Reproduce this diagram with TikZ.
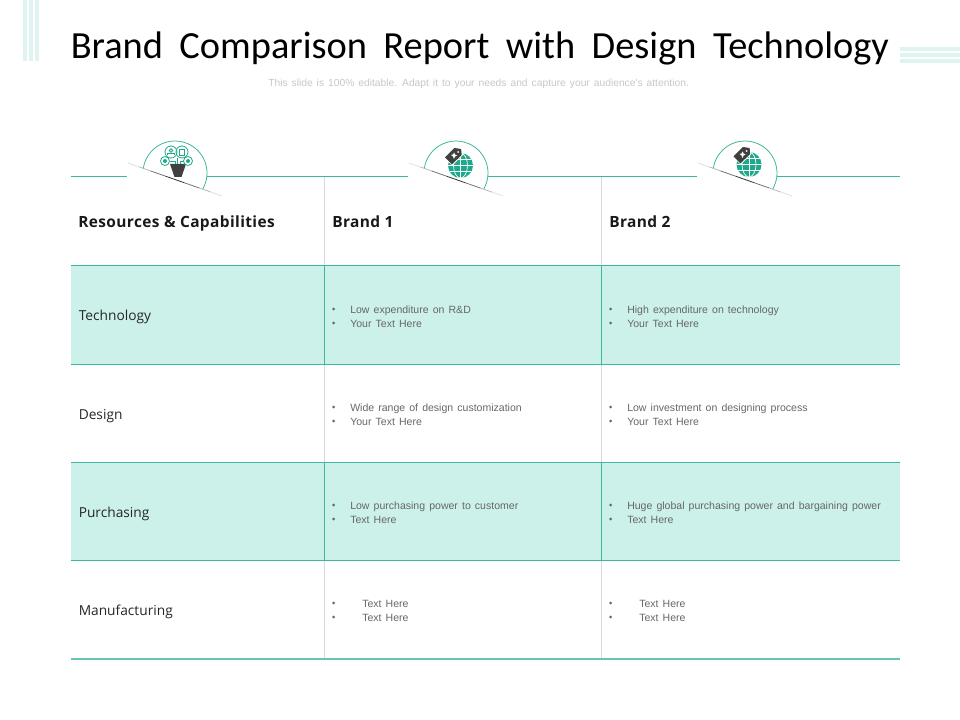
\documentclass[tikz,border=0pt]{standalone}
\usepackage{fontspec}
\setmainfont{Liberation Sans}
\newfontfamily\titlefont[WordSpace=1.9]{Carlito}
\newfontfamily\headfont[LetterSpace=2.5]{Open Sans}
\newfontfamily\rowfont{Open Sans}
\newfontfamily\bodyfont[WordSpace=1.4]{Liberation Sans}
\definecolor{teal1}{HTML}{3DB8A0}
\definecolor{tealfill}{HTML}{CCF1EA}
\definecolor{stripe}{HTML}{DFF3F0}
\definecolor{gridgray}{HTML}{D9D9D9}
\definecolor{txtgray}{HTML}{666666}
\definecolor{icondark}{HTML}{404040}
\definecolor{iconteal}{HTML}{1FA98C}
\tikzset{
  x=0.75pt,y=-0.75pt,
  hline/.style={teal1,line width=0.75pt},
  hlineedge/.style={teal1!80,line width=1.1pt},
  vgray/.style={gridgray,line width=0.75pt},
  vteal/.style={teal1,line width=0.75pt},
  rowfill/.style={fill=tealfill,draw=none},
  stripeband/.style={fill=stripe,draw=none},
  headtxt/.style={anchor=base west,inner sep=0pt,font=\headfont\bfseries\fontsize{11.6}{13}\selectfont,text=black!90},
  rowtxt/.style={anchor=base west,inner sep=0pt,font=\rowfont\fontsize{10.3}{13}\selectfont,text=black!85},
  celltxt/.style={anchor=base west,inner sep=0pt,font=\bodyfont\fontsize{7.9}{10.5}\selectfont,text=txtgray},
  bulletdot/.style={fill=txtgray,draw=none},
  arcline/.style={teal1,line width=0.6pt},
  iconring/.style={iconteal,line width=0.6pt,fill=none},
}
\newcommand{\diagline}[1]{%
  \begin{scope}[shift={(#1,0)}]
    \fill[white] (-48,173) rectangle (31.5,181);
    \foreach \a/\b/\c in {0/0.12/12,0.12/0.24/28,0.24/0.4/55,0.4/0.6/80,0.6/0.76/55,0.76/0.88/28,0.88/1/12}{
      \draw[black!\c,line width=0.6pt] ({-47+94*\a},{163+33*\a}) -- ({-47+94*\b},{163+33*\b});
    }
    \draw[arcline] (27.7,189) arc[start angle=30,end angle=-171,radius=32];
  \end{scope}}
\newcommand{\globetag}[2]{%
  \begin{scope}[shift={(#1,#2)}]
    \fill[iconteal] (0,0) circle[radius=12.5];
    \begin{scope}
      \clip (0,0) circle[radius=12.5];
      \foreach \yy in {-6,0,6}{\draw[white,line width=0.5pt] (-13,\yy) -- (13,\yy);}
      \draw[white,line width=0.5pt] (0,-13) -- (0,13);
      \draw[white,line width=0.5pt] (0,0) ellipse[x radius=7,y radius=12.5];
    \end{scope}
    \fill[white] (-16.5,-8) -- (-6,-18.5) -- (1.8,-17.5) -- (2.3,-10.5) -- (-8.2,0) -- cycle;
    \fill[icondark] (-15.5,-8.2) -- (-6,-17.5) -- (0.6,-16.5) -- (1.2,-10.5) -- (-8.5,-1.2) -- cycle;
    \fill[white] (-2.5,-13.5) circle[radius=1];
    \fill[white] (-9.5,-10.5) -- (-7.5,-11) -- (-6.5,-13) -- (-5.5,-11) -- (-3.5,-10) -- (-5.5,-9) -- (-6.5,-6.5) -- (-7.5,-9) -- cycle;
  \end{scope}}
\begin{document}
\begin{tikzpicture}
\useasboundingbox (0,0) rectangle (960,720);
% decoration
\foreach \xx in {23,29,35}{\fill[stripeband] (\xx,0) rectangle (\xx+4,61);}
\foreach \yy in {47,53,59}{\fill[stripeband] (900,\yy) rectangle (960,\yy+4.5);}
% title
\node[inner sep=0pt,anchor=base west,font=\titlefont\fontsize{28.8}{34}\selectfont,text=black] (title) at (70.5,58.5) {Brand Comparison Report with Design Technology};
\node[inner sep=0pt,anchor=base west,font=\bodyfont\fontsize{7.7}{10}\selectfont,text=black!22] (subtitle) at (268,87) {This slide is 100\% editable. Adapt it to your needs and capture your audience's attention.};
% rows
\fill[rowfill] (71,266) rectangle (900,364);
\fill[rowfill] (71,462) rectangle (900,560);
% vertical lines
\foreach \xx in {324.5,601.5}{
  \draw[vgray] (\xx,177) -- (\xx,266);
  \draw[vteal] (\xx,266) -- (\xx,364);
  \draw[vgray] (\xx,364) -- (\xx,462);
  \draw[vteal] (\xx,462) -- (\xx,560);
  \draw[vgray] (\xx,560) -- (\xx,659);
}
% horizontal lines
\draw[hline] (71,177) -- (900,177);
\foreach \yy in {266,364,462,560}{\draw[hline] (71,\yy) -- (900,\yy);}
\draw[hlineedge] (71,659) -- (900,659);
% icons
\diagline{175}
\diagline{456}
\diagline{745}
% icon 1
\fill[icondark] (170,164) -- (186,164) -- (181.5,177) -- (174.5,177) -- cycle;
\draw[iconring] (171,152) circle[radius=6];
\draw[iconring] (182,152) circle[radius=6];
\draw[iconring] (165,161) circle[radius=4.5];
\draw[iconring] (188,161) circle[radius=4.5];
\draw[iconring] (169.5,161) -- (175,161) -- (175,164);
\draw[iconring] (183.5,161) -- (180,161) -- (180,164);
\draw[iconring] (177,158) -- (177,164);
\draw[iconring] (179.8,149) rectangle (184.2,155.5);
\draw[iconring] (171,150.5) circle[radius=1.7];
\draw[iconring] (167.5,155.5) -- (167.5,153.8) -- (174.5,153.8) -- (174.5,155.5);
\fill[iconteal] (165,161) circle[radius=2];
\fill[iconteal] (188,161) circle[radius=2];
% globes
\globetag{460.5}{165.5}
\globetag{749}{164.5}
% header
\node[headtxt] (h1) at (78,228) {Resources \& Capabilities};
\node[headtxt] (h2) at (332,228) {Brand 1};
\node[headtxt] (h3) at (609,228) {Brand 2};
% row labels
\node[rowtxt] (r1) at (78.5,320.5) {Technology};
\node[rowtxt] (r2) at (78.5,419) {Design};
\node[rowtxt] (r3) at (78.5,517) {Purchasing};
\node[rowtxt] (r4) at (78.5,615) {Manufacturing};
% cells
\foreach \nm/\xx/\yy/\txt in {
 a1/350/313/Low expenditure on R\&D, a2/350/327/Your Text Here,
 b1/627/313/High expenditure on technology, b2/627/327/Your Text Here,
 c1/350/411/Wide range of design customization, c2/350/425/Your Text Here,
 d1/627/411/Low investment on designing process, d2/627/425/Your Text Here,
 e1/350/509/Low purchasing power to customer, e2/350/523/Text Here,
 f1/627/509/Huge global purchasing power and bargaining power, f2/627/523/Text Here,
 g1/362/607/Text Here, g2/362/621/Text Here,
 i1/639/607/Text Here, i2/639/621/Text Here}{
  \node[celltxt] (\nm) at (\xx,\yy) {\txt};
}
\foreach \xx in {333.5,610.5}{
  \foreach \yy in {309,323,407,421,505,519,603,617}{
    \fill[bulletdot] (\xx,\yy) circle[radius=1.5];
  }
}
\end{tikzpicture}
\end{document}
